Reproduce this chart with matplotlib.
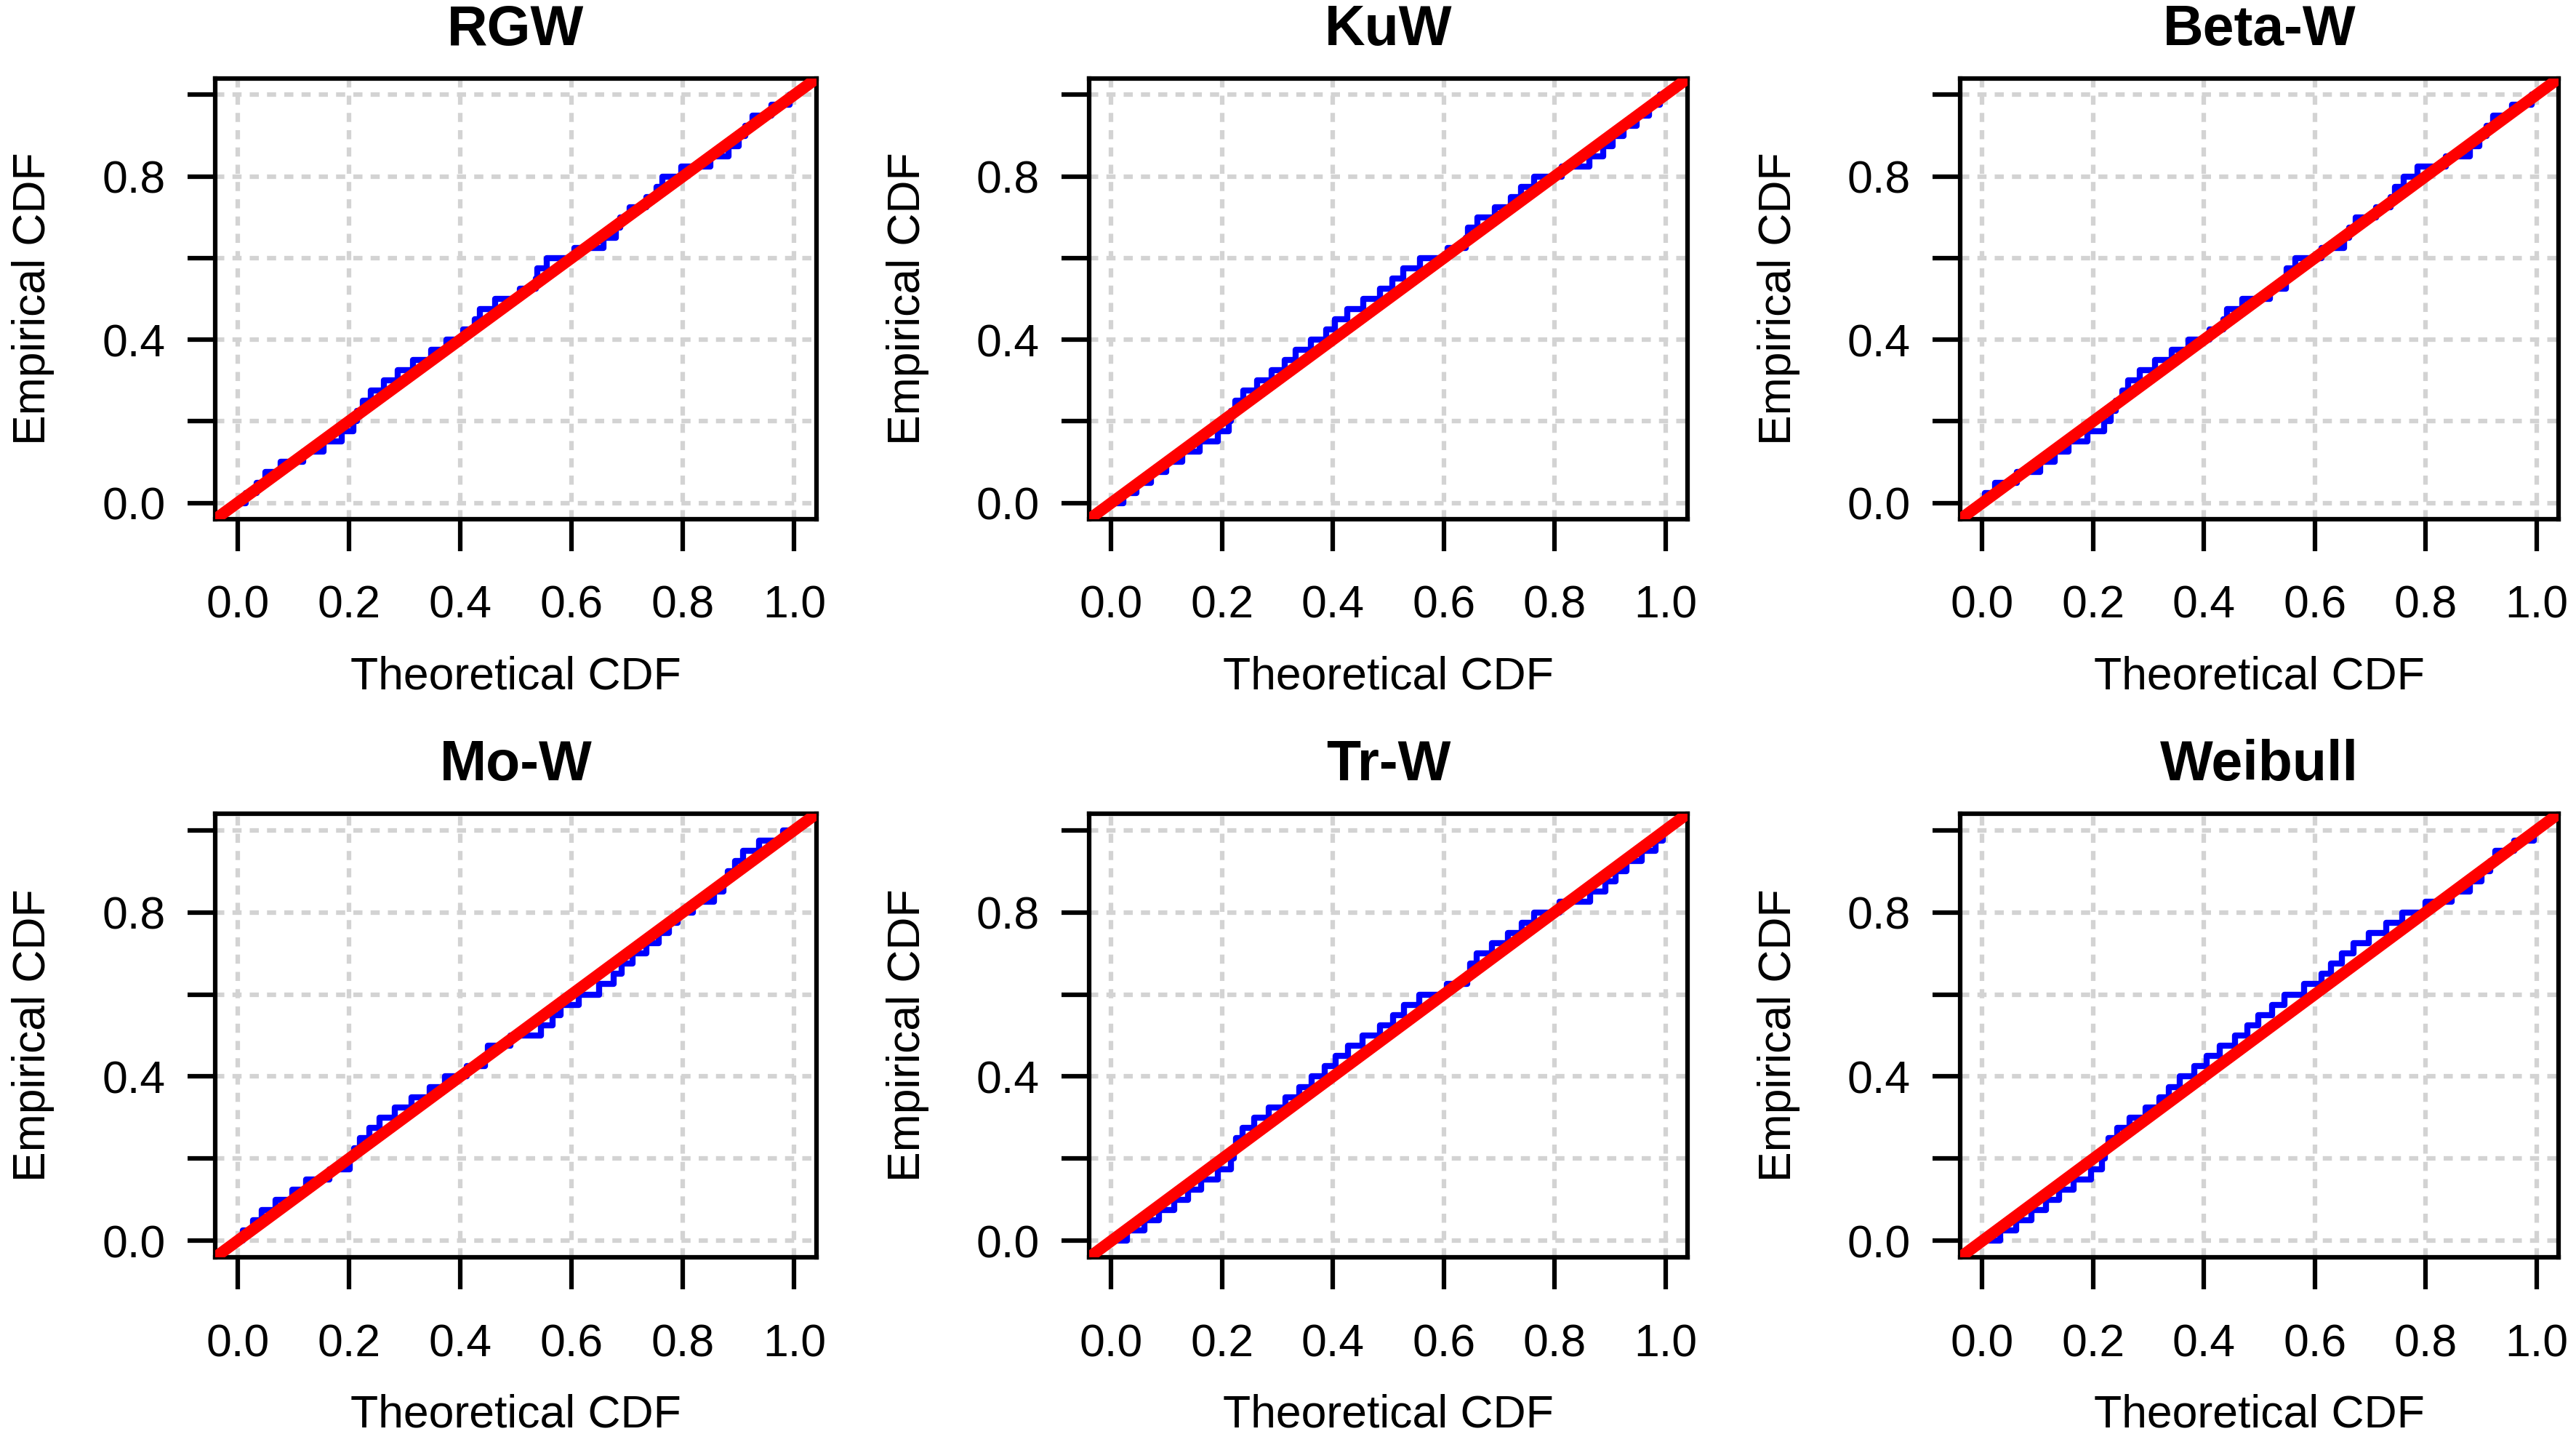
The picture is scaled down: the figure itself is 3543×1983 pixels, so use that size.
import matplotlib
matplotlib.use('Agg')
import matplotlib.pyplot as plt

plt.rcParams['font.family'] = ['Liberation Sans', 'DejaVu Sans']

# empirical CDF levels (same sample for every fitted model)
emp_cdf = [0.0, 0.025, 0.05, 0.075, 0.1, 0.125, 0.15, 0.175, 0.2, 0.225,
           0.25, 0.275, 0.3, 0.325, 0.35, 0.375, 0.4, 0.425, 0.45, 0.475,
           0.5, 0.525, 0.55, 0.575, 0.6, 0.625, 0.65, 0.675, 0.7, 0.725,
           0.75, 0.775, 0.8, 0.825, 0.85, 0.875, 0.9, 0.925, 0.95, 0.975, 1.0]

# theoretical CDF of each model at those points
rgw = [0.0, 0.03, 0.04, 0.06, 0.095, 0.14, 0.17, 0.205, 0.21, 0.22,
       0.23, 0.25, 0.275, 0.301, 0.33, 0.365, 0.385, 0.425, 0.427, 0.445,
       0.48, 0.535, 0.537, 0.54, 0.57, 0.64, 0.675, 0.685, 0.69, 0.72,
       0.75, 0.755, 0.77, 0.825, 0.874, 0.89, 0.91, 0.915, 0.935, 0.983, 1.0]
kuw = [0.01, 0.033, 0.058, 0.085, 0.112, 0.145, 0.175, 0.21, 0.215, 0.217,
       0.23, 0.247, 0.278, 0.3, 0.325, 0.34, 0.38, 0.395, 0.413, 0.44,
       0.47, 0.5, 0.515, 0.54, 0.575, 0.64, 0.64, 0.647, 0.675, 0.71,
       0.732, 0.747, 0.78, 0.845, 0.88, 0.895, 0.915, 0.935, 0.96, 0.98, 1.0]
betaw = [0.0, 0.01, 0.035, 0.09, 0.118, 0.142, 0.17, 0.21, 0.23, 0.232,
         0.25, 0.255, 0.27, 0.298, 0.325, 0.36, 0.385, 0.435, 0.436, 0.448,
         0.49, 0.547, 0.548, 0.55, 0.58, 0.645, 0.66, 0.663, 0.685, 0.735,
         0.74, 0.75, 0.77, 0.8, 0.872, 0.889, 0.905, 0.915, 0.93, 0.983, 1.0]
mow = [0.0, 0.02, 0.035, 0.051, 0.085, 0.111, 0.135, 0.195, 0.209, 0.21,
       0.23, 0.245, 0.266, 0.299, 0.325, 0.365, 0.38, 0.443, 0.445, 0.455,
       0.525, 0.565, 0.566, 0.595, 0.63, 0.67, 0.68, 0.699, 0.72, 0.748,
       0.765, 0.785, 0.795, 0.84, 0.872, 0.873, 0.888, 0.9, 0.915, 0.959, 1.0]
trw = [0.01, 0.047, 0.072, 0.101, 0.126, 0.151, 0.172, 0.212, 0.22, 0.221,
       0.23, 0.245, 0.27, 0.299, 0.33, 0.348, 0.375, 0.395, 0.416, 0.438,
       0.47, 0.5, 0.516, 0.541, 0.57, 0.64, 0.645, 0.65, 0.67, 0.705,
       0.728, 0.753, 0.773, 0.845, 0.883, 0.9, 0.92, 0.94, 0.975, 0.99, 1.0]
weibull = [0.015, 0.049, 0.074, 0.103, 0.127, 0.15, 0.18, 0.213, 0.22, 0.221,
           0.235, 0.251, 0.28, 0.31, 0.33, 0.342, 0.37, 0.395, 0.415, 0.442,
           0.47, 0.487, 0.51, 0.535, 0.556, 0.605, 0.62, 0.638, 0.66, 0.68,
           0.715, 0.742, 0.775, 0.825, 0.87, 0.89, 0.912, 0.92, 0.931, 0.99, 1.0]

titles = ['RGW', 'KuW', 'Beta-W', 'Mo-W', 'Tr-W', 'Weibull']
models = [rgw, kuw, betaw, mow, trw, weibull]

ticks = [0.0, 0.2, 0.4, 0.6, 0.8, 1.0]
xlabels = ['0.0', '0.2', '0.4', '0.6', '0.8', '1.0']
ylabels = ['0.0', '', '0.4', '', '0.8', '']
ref_line = [0.0, 1.0]

W, H = 3543, 1983
fig = plt.figure(figsize=(W / 300, H / 300), dpi=300)

# plot regions in pixels: left, right / top, bottom
cols = [(296, 1123), (1498, 2321), (2696, 3519)]
rows = [(108, 714), (1119, 1729)]

for i, (name, theo) in enumerate(zip(titles, models)):
    x0, x1 = cols[i % 3]
    y0, y1 = rows[i // 3]
    ax = fig.add_axes([x0 / W, 1 - y1 / H, (x1 - x0) / W, (y1 - y0) / H])
    ax.set_xlim(-0.04, 1.04)
    ax.set_ylim(-0.04, 1.04)
    ax.set_xticks(ticks)
    ax.set_xticklabels(xlabels)
    ax.set_yticks(ticks)
    ax.set_yticklabels(ylabels)
    ax.grid(True, color='#d3d3d3', linestyle=(0, (2, 1.8)), linewidth=1.5)
    ax.set_axisbelow(True)

    ax.plot(theo, emp_cdf, color='blue', lw=2.0, drawstyle='steps-mid',
            zorder=2)
    ax.axline((ref_line[0], ref_line[0]), (ref_line[1], ref_line[1]),
              color='red', lw=3.8, zorder=3)

    for sp in ax.spines.values():
        sp.set_linewidth(1.5)
    ax.tick_params(axis='x', length=10.6, width=1.5, pad=11, labelsize=15)
    ax.tick_params(axis='y', length=9.1, width=1.5, pad=7.2, labelsize=15)

    ax.annotate(name, xy=(0.5, 1), xycoords='axes fraction',
                xytext=(0, 16), textcoords='offset points',
                ha='center', va='center', fontsize=18.5, fontweight='bold')
    ax.annotate('Theoretical CDF', xy=(0.5, 0), xycoords='axes fraction',
                xytext=(0, -52), textcoords='offset points',
                ha='center', va='center', fontsize=15)
    ax.annotate('Empirical CDF', xy=(0, 0.5), xycoords='axes fraction',
                xytext=(-60, 0), textcoords='offset points',
                ha='center', va='center', fontsize=15, rotation=90)

fig.savefig('out.png', dpi=300)
